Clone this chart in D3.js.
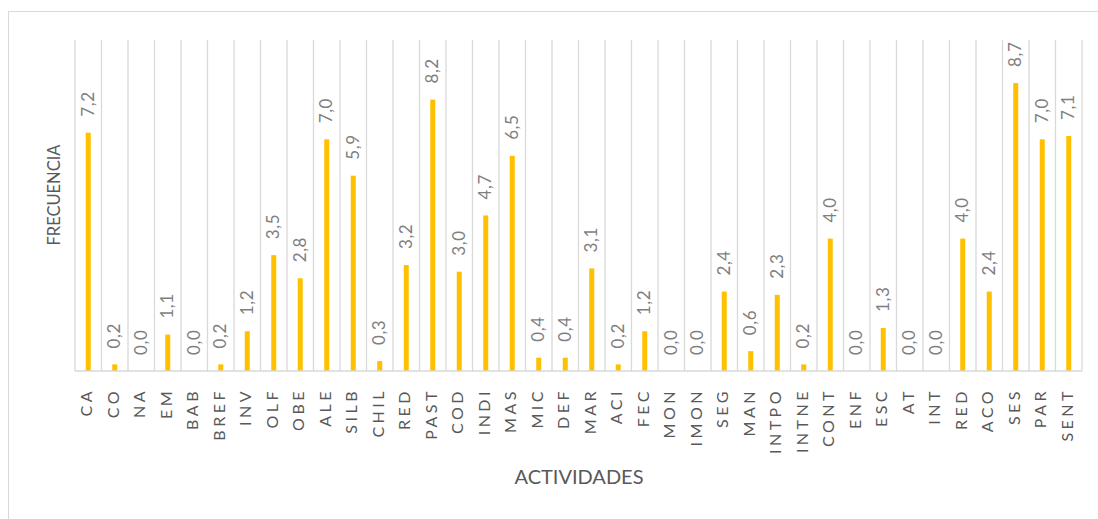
<!DOCTYPE html>
<html lang="es">
<head>
<meta charset="utf-8">
<title>Frecuencia por actividad</title>
<style>
  body { margin: 0; background: #fff; }
  svg text { font-family: Lato, "Open Sans", sans-serif; }
</style>
</head>
<body>
<svg id="chart" width="1098" height="519"></svg>
<script src="https://d3js.org/d3.v7.min.js"></script>
<script>
const actividades = ["CA","CO","NA","EM","BAB","BREF","INV","OLF","OBE","ALE","SILB","CHIL","RED","PAST","COD","INDI","MAS","MIC","DEF","MAR","ACI","FEC","MON","IMON","SEG","MAN","INTPO","INTNE","CONT","ENF","ESC","AT","INT","RED","ACO","SES","PAR","SENT"]
const frecuencia = [7.2,0.2,0.0,1.1,0.0,0.2,1.2,3.5,2.8,7.0,5.9,0.3,3.2,8.2,3.0,4.7,6.5,0.4,0.4,3.1,0.2,1.2,0.0,0.0,2.4,0.6,2.3,0.2,4.0,0.0,1.3,0.0,0.0,4.0,2.4,8.7,7.0,7.1]
const yMax = 10

const svg = d3.select("#chart")
const plotLeft = 75, plotRight = 1082, plotTop = 40, base = 371

// outer chart border (runs off the window on right and bottom)
svg.append("rect")
    .attr("x", 8.5).attr("y", 11.5)
    .attr("width", 1200).attr("height", 600)
    .attr("fill", "none").attr("stroke", "#d9d9d9").attr("stroke-width", 1)

const idx = d3.range(actividades.length)
const x = d3.scaleBand().domain(idx).range([plotLeft, plotRight])
const y = d3.scaleLinear().domain([0, yMax]).range([base, plotTop])

// vertical gridlines at category boundaries
const g = svg.append("g")
g.selectAll("line.grid")
    .data(d3.range(actividades.length + 1))
    .join("line")
    .attr("class", "grid")
    .attr("x1", i => plotLeft + i * x.step())
    .attr("x2", i => plotLeft + i * x.step())
    .attr("y1", plotTop).attr("y2", base)
    .attr("stroke", "#d9d9d9").attr("stroke-width", 1.3)

// bars
const bw = 5
g.selectAll("rect.bar")
    .data(frecuencia)
    .join("rect")
    .attr("class", "bar")
    .attr("x", (d, i) => x(i) + x.bandwidth() / 2 - bw / 2)
    .attr("width", bw)
    .attr("y", d => y(d))
    .attr("height", d => base - y(d))
    .attr("fill", "#ffc000")

// baseline
svg.append("line")
    .attr("x1", plotLeft).attr("x2", plotRight)
    .attr("y1", base).attr("y2", base)
    .attr("stroke", "#d9d9d9").attr("stroke-width", 1.5)

// value labels
const fmt = v => v.toFixed(1).replace(".", ",")
g.selectAll("text.val")
    .data(frecuencia)
    .join("text")
    .attr("class", "val")
    .attr("transform", (d, i) => `translate(${x(i) + x.bandwidth() / 2 + 1},${y(d) - 16}) rotate(-90)`)
    .attr("dominant-baseline", "middle")
    .attr("font-size", 17)
    .attr("letter-spacing", 0.6)
    .attr("fill", "#7f7f7f")
    .text(fmt)

// category labels
g.selectAll("text.cat")
    .data(actividades)
    .join("text")
    .attr("class", "cat")
    .attr("transform", (d, i) => `translate(${x(i) + x.bandwidth() / 2},${388}) rotate(-90)`)
    .attr("text-anchor", "end")
    .attr("dominant-baseline", "middle")
    .attr("font-size", 16)
    .attr("letter-spacing", 3.5)
    .attr("fill", "#595959")
    .text(d => d)

// axis titles
svg.append("text")
    .attr("transform", `translate(56,195) rotate(-90)`)
    .attr("text-anchor", "middle")
    .attr("dominant-baseline", "middle")
    .attr("font-size", 16.5)
    .attr("fill", "#595959")
    .text("FRECUENCIA")

svg.append("text")
    .attr("x", 579).attr("y", 479)
    .attr("text-anchor", "middle")
    .attr("dominant-baseline", "middle")
    .attr("font-size", 20)
    .attr("fill", "#595959")
    .text("ACTIVIDADES")
</script>
</body>
</html>
